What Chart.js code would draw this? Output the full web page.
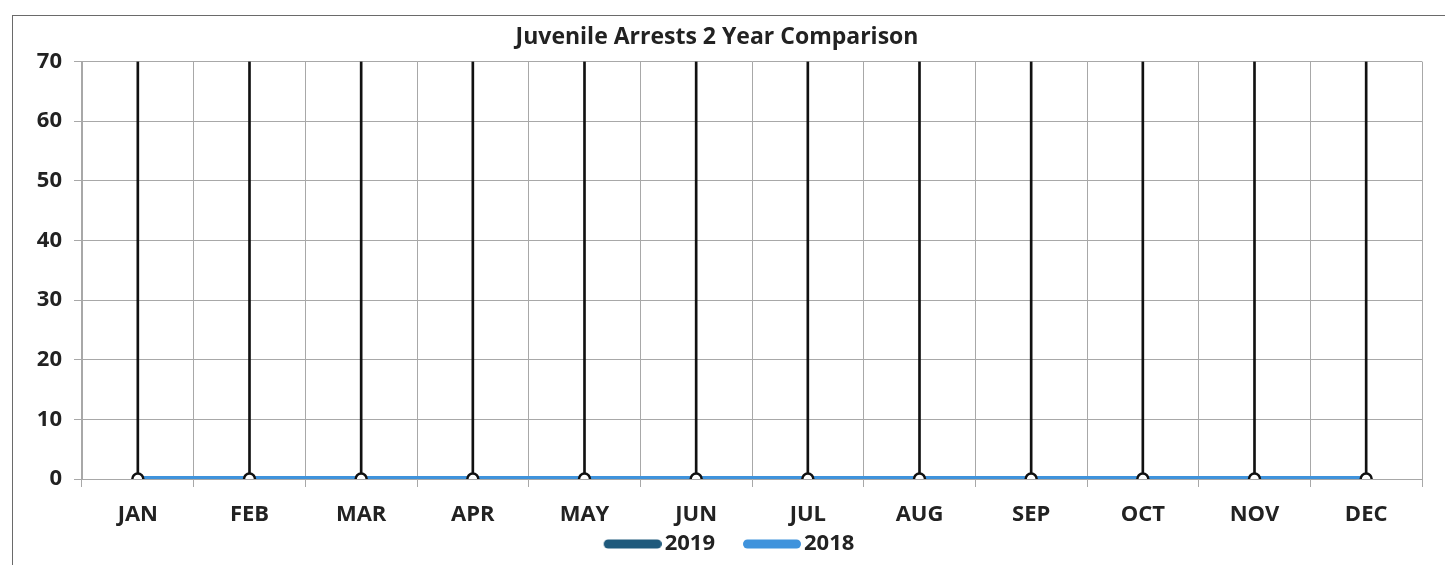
<!DOCTYPE html>
<html>
<head>
<meta charset="utf-8">
<script src="https://cdn.jsdelivr.net/npm/chart.js@4/dist/chart.umd.min.js"></script>
<style>
  body { margin: 0; background: #fff; }
  #wrap { position: relative; width: 1445px; height: 565px; overflow: hidden; }
  #frame { position: absolute; left: 12px; top: 15px; width: 1450px; height: 600px; border: 1px solid #6a6a6a; }
  canvas { position: absolute; left: 0; top: 0; }
</style>
</head>
<body>
<div id="wrap">
  <div id="frame"></div>
  <canvas id="myChart" width="1445" height="565"></canvas>
</div>
<script>
const months = ['JAN', 'FEB', 'MAR', 'APR', 'MAY', 'JUN', 'JUL', 'AUG', 'SEP', 'OCT', 'NOV', 'DEC'];
const arrests2019 = [0, 0, 0, 0, 0, 0, 0, 0, 0, 0, 0, 0];
const arrests2018 = [0, 0, 0, 0, 0, 0, 0, 0, 0, 0, 0, 0];
// the black vertical lines reach the top of the axis at every month
const dropLineTop = [70, 70, 70, 70, 70, 70, 70, 70, 70, 70, 70, 70];
const yTicks = [0, 10, 20, 30, 40, 50, 60, 70];

const font = '"Open Sans", Lato, sans-serif';

// legend swatch: thick rounded line, with empty room on its left as the gap between items
function legendLine(color) {
  const c = document.createElement('canvas');
  c.width = 90;
  c.height = 12;
  const g = c.getContext('2d');
  g.strokeStyle = color;
  g.lineWidth = 9;
  g.lineCap = 'round';
  g.beginPath();
  g.moveTo(90 - 58 + 4.5, 6);
  g.lineTo(90 - 4.5, 6);
  g.stroke();
  return c;
}

const ctx = document.getElementById('myChart').getContext('2d');
const chart = new Chart(ctx, {
  data: {
    labels: months,
    datasets: [
      {
        type: 'line',
        label: '2019',
        data: arrests2019,
        borderColor: '#1f5a7c',
        backgroundColor: '#1f5a7c',
        borderWidth: 6,
        pointRadius: 0,
        order: 2
      },
      {
        type: 'line',
        label: '2018',
        data: arrests2018,
        borderColor: '#3f93dc',
        backgroundColor: '#3f93dc',
        borderWidth: 6,
        pointRadius: 5.5,
        pointBackgroundColor: '#fff',
        pointBorderColor: '#111',
        pointBorderWidth: 2.5,
        order: 1
      },
      {
        type: 'bar',
        label: 'drop',
        data: dropLineTop,
        backgroundColor: '#111',
        barThickness: 2,
        order: 3
      }
    ]
  },
  options: {
    responsive: false,
    animation: false,
    layout: { padding: { left: 12, right: 23, top: 0, bottom: 0 } },
    plugins: {
      title: {
        display: true,
        text: 'Juvenile Arrests 2 Year Comparison',
        color: '#222',
        font: { family: font, size: 23, weight: 'bold' },
        padding: { top: 24, bottom: 10 }
      },
      legend: {
        position: 'bottom',
        labels: {
          color: '#222',
          font: { family: font, size: 22, weight: 'bold' },
          usePointStyle: true,
          pointStyleWidth: 74,
          boxHeight: 22,
          padding: 4,
          filter: item => item.text !== 'drop',
          generateLabels: c => {
            const items = Chart.defaults.plugins.legend.labels.generateLabels(c);
            items.sort((a, b) => a.datasetIndex - b.datasetIndex);
            items.forEach(it => {
              it.pointStyle = legendLine(c.data.datasets[it.datasetIndex].borderColor);
            });
            return items;
          }
        }
      },
      tooltip: { enabled: false }
    },
    scales: {
      x: {
        offset: true,
        afterFit: s => { s.height = 50; },
        grid: { color: '#a8a8a8', lineWidth: 1, offset: true, tickLength: 8 },
        border: { color: '#a8a8a8' },
        ticks: {
          color: '#222',
          padding: 15,
          font: { family: font, size: 22, weight: 'bold' }
        }
      },
      y: {
        min: 0,
        max: 70,
        afterFit: s => { s.width = 70; },
        afterBuildTicks: s => { s.ticks = yTicks.map(v => ({ value: v })); },
        grid: { color: '#a8a8a8', lineWidth: 1, tickLength: 8 },
        border: { color: '#a8a8a8' },
        ticks: {
          color: '#222',
          padding: 12,
          font: { family: font, size: 22, weight: 'bold' }
        }
      }
    }
  }
});
</script>
</body>
</html>
